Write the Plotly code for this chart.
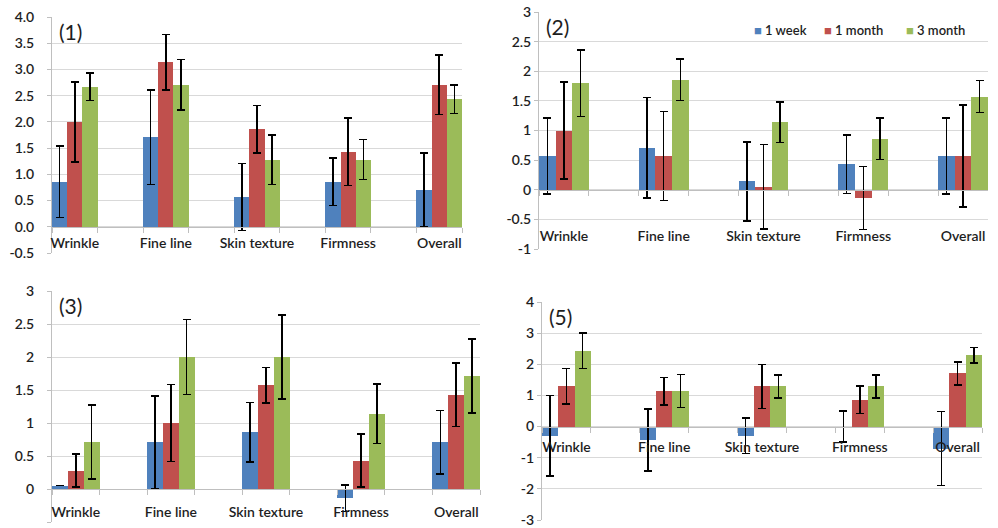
import plotly.graph_objects as go

categories = ["Wrinkle", "Fine line", "Skin texture", "Firmness", "Overall"]
series_names = ["1 week", "1 month", "3 month"]
colors = ["#4F81BD", "#C0504D", "#9BBB59"]

# Panel (1)
p1_week = [0.86, 1.71, 0.57, 0.86, 0.71]
p1_week_err = [0.68, 0.90, 0.64, 0.45, 0.70]
p1_month = [2.00, 3.14, 1.86, 1.43, 2.71]
p1_month_err = [0.76, 0.53, 0.45, 0.64, 0.57]
p1_3month = [2.67, 2.71, 1.28, 1.28, 2.43]
p1_3month_err = [0.26, 0.48, 0.47, 0.38, 0.27]

# Panel (2)
p2_week = [0.57, 0.71, 0.14, 0.43, 0.57]
p2_week_err = [0.64, 0.85, 0.67, 0.49, 0.64]
p2_month = [1.00, 0.57, 0.05, -0.14, 0.57]
p2_month_err = [0.82, 0.75, 0.71, 0.53, 0.86]
p2_3month = [1.80, 1.86, 1.14, 0.86, 1.57]
p2_3month_err = [0.56, 0.35, 0.34, 0.35, 0.27]

# Panel (3)
p3_week = [0.05, 0.71, 0.86, -0.14, 0.71]
p3_week_err = [None, 0.70, 0.45, 0.20, 0.48]
p3_month = [0.28, 1.00, 1.57, 0.43, 1.43]
p3_month_err = [0.25, 0.58, 0.27, 0.40, 0.48]
p3_3month = [0.71, 2.00, 2.00, 1.14, 1.71]
p3_3month_err = [0.56, 0.57, 0.64, 0.45, 0.56]

# Panel (5)
p5_week = [-0.29, -0.43, -0.29, 0.0, -0.71]
p5_week_err = [1.29, 1.00, 0.57, 0.50, 1.19]
p5_month = [1.29, 1.14, 1.29, 0.86, 1.71]
p5_month_err = [0.57, 0.44, 0.71, 0.44, 0.37]
p5_3month = [2.43, 1.14, 1.29, 1.29, 2.29]
p5_3month_err = [0.57, 0.53, 0.37, 0.37, 0.25]

p1_yticks = ["-0.5", "0.0", "0.5", "1.0", "1.5", "2.0", "2.5", "3.0", "3.5", "4.0"]
p2_yticks = ["-1", "-0.5", "0", "0.5", "1", "1.5", "2", "2.5", "3"]
p3_yticks = ["-0.5", "0", "0.5", "1", "1.5", "2", "2.5", "3"]
p5_yticks = ["-3", "-2", "-1", "0", "1", "2", "3", "4"]

panel_labels = ["(1)", "(2)", "(3)", "(5)"]

panels = [
    dict(vals=[(p1_week, p1_week_err), (p1_month, p1_month_err), (p1_3month, p1_3month_err)],
         yticks=p1_yticks, xdom=[52, 462], ydom=[17, 253], xstand=3, ystand=10),
    dict(vals=[(p2_week, p2_week_err), (p2_month, p2_month_err), (p2_3month, p2_3month_err)],
         yticks=p2_yticks, xdom=[539, 988], ydom=[12, 249], xstand=33, ystand=0),
    dict(vals=[(p3_week, p3_week_err), (p3_month, p3_month_err), (p3_3month, p3_3month_err)],
         yticks=p3_yticks, xdom=[52, 480], ydom=[291, 522], xstand=10, ystand=10),
    dict(vals=[(p5_week, p5_week_err), (p5_month, p5_month_err), (p5_3month, p5_3month_err)],
         yticks=p5_yticks, xdom=[542, 982], ydom=[302, 520], xstand=8, ystand=0),
]

# legend entries placed at the top-right of panel (2) (left edge px, centre y px)
legend_pos = [(752, 30), (822, 30), (904, 30)]

W, H = 998, 528
FONT = "Lato"
TXT = "#1e1e1e"
GRID = "#D9D9D9"
AXIS = "#BFBFBF"

# categories with blank spacer slots between them (Excel-style spacing)
full_cats = []
for i, c in enumerate(categories):
    full_cats.append(c)
    if i < len(categories) - 1:
        full_cats.append(" " * (i + 1))

fig = go.Figure()
layout = dict(width=W, height=H, margin=dict(l=0, r=0, t=0, b=0, autoexpand=False),
              paper_bgcolor="white", plot_bgcolor="white",
              barmode="group", bargap=0, bargroupgap=0, showlegend=False,
              font=dict(family=FONT, size=14, color=TXT, weight=600),
              annotations=[])

for k, p in enumerate(panels):
    n = "" if k == 0 else str(k + 1)
    xa, ya = "x" + n, "y" + n
    for s in range(3):
        v, e = p["vals"][s]
        fig.add_trace(go.Bar(
            x=categories, y=v, name=series_names[s], marker_color=colors[s],
            marker_line_width=0, xaxis=xa, yaxis=ya,
            error_y=dict(type="data", array=e, color="black", thickness=1.5, width=4),
        ))
    tv = [float(t) for t in p["yticks"]]
    ymin, ymax = tv[0], tv[-1]
    yd = [1 - p["ydom"][1] / H, 1 - p["ydom"][0] / H]
    xd = [p["xdom"][0] / W, p["xdom"][1] / W]
    zero_pos = yd[0] + (0 - ymin) / (ymax - ymin) * (yd[1] - yd[0])
    layout["xaxis" + n] = dict(
        domain=xd, anchor="free", position=zero_pos,
        type="category", categoryorder="array", categoryarray=full_cats,
        range=[-0.5, len(full_cats) - 0.5], tickson="boundaries",
        ticks="outside", ticklen=5, tickcolor=AXIS, tickwidth=1, tickangle=0,
        showline=True, linecolor=AXIS, linewidth=1, showgrid=False,
        tickfont=dict(family=FONT, size=14, color=TXT, weight=600),
        ticklabelstandoff=p["xstand"], fixedrange=True, automargin=False,
    )
    layout["yaxis" + n] = dict(
        domain=yd, anchor=xa, range=[ymin, ymax],
        tickmode="array", tickvals=tv, ticktext=p["yticks"],
        showgrid=True, gridcolor=GRID, gridwidth=1, zeroline=False,
        showline=True, linecolor=AXIS, linewidth=1,
        ticks="outside", ticklen=4, tickcolor=AXIS,
        tickfont=dict(family=FONT, size=14, color=TXT, weight=600),
        ticklabelstandoff=p["ystand"], fixedrange=True, automargin=False,
    )
    layout["annotations"].append(dict(
        text=panel_labels[k], xref=xa + " domain", yref=ya + " domain",
        x=0.012, y=0.998, xanchor="left", yanchor="top", showarrow=False,
        font=dict(family=FONT, size=21, color=TXT, weight=400),
    ))

for s in range(3):
    lx, ly = legend_pos[s]
    layout["annotations"].append(dict(
        text="<span style='color:%s'>■</span> %s" % (colors[s], series_names[s]),
        xref="paper", yref="paper", x=lx / W, y=1 - ly / H,
        xanchor="left", yanchor="middle", showarrow=False,
        font=dict(family=FONT, size=13, color=TXT, weight=600),
    ))

fig.update_layout(**layout)
fig.write_html("out.html", config={"displayModeBar": False, "responsive": False},
               post_script="document.body.style.margin='0px';document.body.style.overflow='hidden';")
